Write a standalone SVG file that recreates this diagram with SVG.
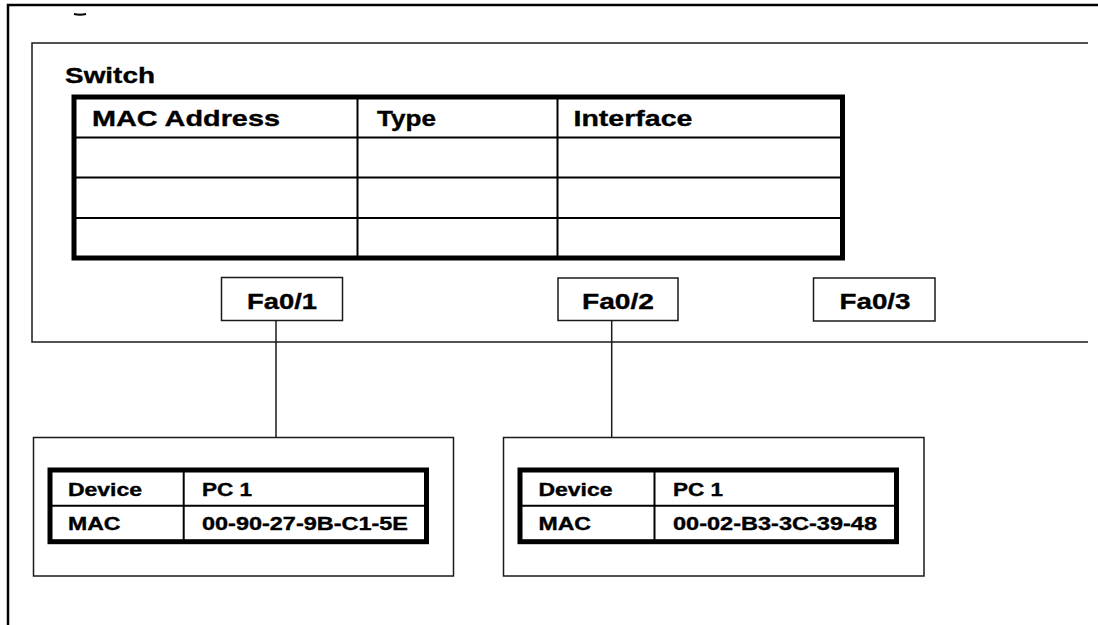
<svg xmlns="http://www.w3.org/2000/svg" width="1098" height="625" viewBox="0 0 1098 625">
  <style>
    .lbl { font-family: "Liberation Sans", Arial, Helvetica, sans-serif; font-weight: bold; fill: #000; stroke: #000; stroke-width: 0.35; }
    .big { font-size: 22.5px; }
    .port { font-size: 21.5px; }
    .small { font-size: 17.5px; }
    .thin { fill: none; stroke: #1a1a1a; stroke-width: 1.5; }
    .grid { fill: none; stroke: #000; stroke-width: 2; }
    .frame { fill: none; stroke: #000; stroke-width: 5; }
    .wire { fill: none; stroke: #1a1a1a; stroke-width: 1.5; }
  </style>

  <rect width="1098" height="625" fill="#fff"/>

  <!-- page frame -->
  <g id="page-frame">
    <path d="M1098,5 H8 V625" fill="none" stroke="#000" stroke-width="2.5"/>
    <path d="M74,14 Q80,15.5 86,14" fill="none" stroke="#000" stroke-width="2"/>
  </g>

  <!-- switch -->
  <g id="switch">
    <path class="thin" d="M1088,43 H32 V342 H1088"/>
    <text class="lbl big" x="65" y="83" textLength="90" lengthAdjust="spacingAndGlyphs">Switch</text>
  </g>

  <!-- MAC address table -->
  <g id="mac-table">
    <path class="grid" d="M74,137.5 H842.5 M74,177.5 H842.5 M74,218 H842.5"/>
    <path class="grid" d="M357.5,97 V258 M557.5,97 V258" stroke-width="2.5"/>
    <rect class="frame" x="74" y="97" width="768.5" height="161"/>
    <text class="lbl big" x="92" y="125.5" textLength="188" lengthAdjust="spacingAndGlyphs">MAC Address</text>
    <text class="lbl big" x="377" y="125.5" textLength="59" lengthAdjust="spacingAndGlyphs">Type</text>
    <text class="lbl big" x="573.5" y="125.5" textLength="119" lengthAdjust="spacingAndGlyphs">Interface</text>
  </g>

  <!-- switch ports -->
  <g id="port-fa0-1">
    <rect class="thin" x="221.5" y="277.5" width="121" height="43"/>
    <text class="lbl port" x="247" y="308.5" textLength="70" lengthAdjust="spacingAndGlyphs">Fa0/1</text>
  </g>
  <g id="port-fa0-2">
    <rect class="thin" x="558" y="278" width="120" height="42.5"/>
    <text class="lbl port" x="582" y="308.5" textLength="72" lengthAdjust="spacingAndGlyphs">Fa0/2</text>
  </g>
  <g id="port-fa0-3">
    <rect class="thin" x="813.5" y="278" width="121.5" height="43"/>
    <text class="lbl port" x="839.5" y="308.5" textLength="71" lengthAdjust="spacingAndGlyphs">Fa0/3</text>
  </g>

  <!-- links -->
  <g id="connectors">
    <line class="wire" x1="276" y1="320.5" x2="276" y2="437.5"/>
    <line class="wire" x1="611.7" y1="320.5" x2="611.7" y2="437.5"/>
  </g>

  <!-- PC 1 on Fa0/1 -->
  <g id="pc-a">
    <rect class="thin" x="33.5" y="437.5" width="420" height="138.5"/>
    <path class="grid" d="M50,505.7 H426.5"/>
    <path class="grid" d="M183.7,470 V541.7" stroke-width="4"/>
    <rect class="frame" x="50" y="470" width="376.5" height="71.7"/>
    <text class="lbl small" x="68" y="496" textLength="74" lengthAdjust="spacingAndGlyphs">Device</text>
    <text class="lbl small" x="202" y="496" textLength="50" lengthAdjust="spacingAndGlyphs">PC 1</text>
    <text class="lbl small" x="68" y="530" textLength="52.5" lengthAdjust="spacingAndGlyphs">MAC</text>
    <text class="lbl small" x="202" y="530" textLength="206" lengthAdjust="spacingAndGlyphs">00-90-27-9B-C1-5E</text>
  </g>

  <!-- PC 1 on Fa0/2 -->
  <g id="pc-b">
    <rect class="thin" x="503.5" y="437.5" width="420.5" height="138.5"/>
    <path class="grid" d="M520,505.7 H896.5"/>
    <path class="grid" d="M654.5,470 V541.7" stroke-width="4"/>
    <rect class="frame" x="520" y="470" width="376.5" height="71.7"/>
    <text class="lbl small" x="538.5" y="496" textLength="74" lengthAdjust="spacingAndGlyphs">Device</text>
    <text class="lbl small" x="673" y="496" textLength="50" lengthAdjust="spacingAndGlyphs">PC 1</text>
    <text class="lbl small" x="538.5" y="530" textLength="52.5" lengthAdjust="spacingAndGlyphs">MAC</text>
    <text class="lbl small" x="673" y="530" textLength="204" lengthAdjust="spacingAndGlyphs">00-02-B3-3C-39-48</text>
  </g>
</svg>
